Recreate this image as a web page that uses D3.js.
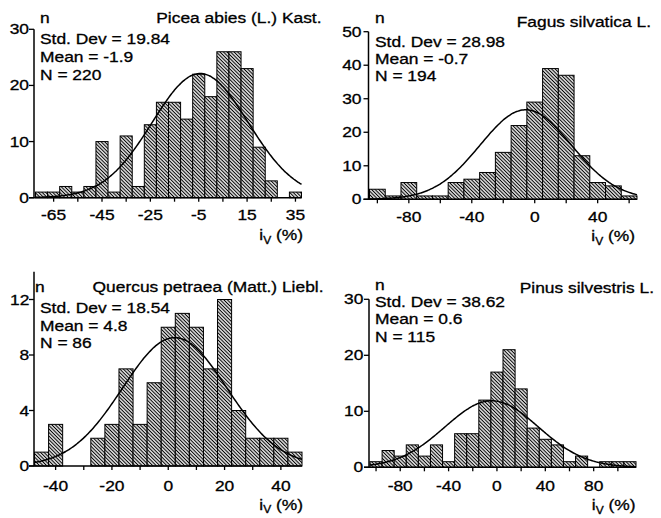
<!DOCTYPE html>
<html><head><meta charset="utf-8">
<script src="https://cdn.jsdelivr.net/npm/d3@7"></script>
<style>
body{margin:0;background:#fff;}
svg{display:block;}
text{font-family:"Liberation Sans",Arial,Helvetica,sans-serif;fill:#000;stroke:#000;stroke-width:0.3px;}
</style></head>
<body>
<svg id="chart" width="661" height="518"></svg>
<script>
// ---------- data ----------
const species = ["Picea abies (L.) Kast.", "Fagus silvatica L.", "Quercus petraea (Matt.) Liebl.", "Pinus silvestris L."];
const stdDevs = [19.84, 28.98, 18.54, 38.62];
const means = [-1.9, -0.7, 4.8, 0.6];
const counts = [220, 194, 86, 115];
const binStarts = [-72.5, -105, -47.5, -105];
const binWidths = [5, 10, 5, 10];

const piceaBins  = [1,1,2,1,2,10,1,11,2,13,17,17,14,22,18,26,26,23,9,3,0,1];
const fagusBins  = [3,1,5,1,1,5,6,8,14,22,29,39,37,13,5,4,1];
const quercusBins= [1,3,0,0,2,3,7,3,6,10,11,10,7,12,4,2,2,2,1];
const pinusBins  = [1,3,2,4,2,4,1,6,6,12,17,21,14,7,5,4,1,2,0,1,1,1];

const piceaXLabels = [-65,-45,-25,-5,15,35];
const fagusXLabels = [-80,-40,0,40];
const quercusXLabels = [-40,-20,0,20,40];
const pinusXLabels = [-80,-40,0,40,80];

const piceaXTicks = [-65,-55,-45,-35,-25,-15,-5,5,15,25,35];
const fagusXTicks = [-100,-80,-60,-40,-20,0,20,40,60];
const quercusXTicks = [-40,-30,-20,-10,0,10,20,30,40];
const pinusXTicks = [-100,-80,-60,-40,-20,0,20,40,60,80,100];

const piceaYTicks = [0,10,20,30];
const fagusYTicks = [0,10,20,30,40,50];
const quercusYTicks = [0,4,8,12];
const pinusYTicks = [0,10,20,30];

const yMax = [30, 50, 14, 30];

const binsAll = [piceaBins, fagusBins, quercusBins, pinusBins];
const xLabelsAll = [piceaXLabels, fagusXLabels, quercusXLabels, pinusXLabels];
const xTicksAll = [piceaXTicks, fagusXTicks, quercusXTicks, pinusXTicks];
const yTicksAll = [piceaYTicks, fagusYTicks, quercusYTicks, pinusYTicks];

// ---------- layout (pixel positions) ----------
const layout = [
  {x0:35.5, x1:301.5, y0:197.7, y1:29.3, spine:34,  nX:40,  nY:23,  tX:321.5, tY:23,  sX:40,  sY:[44,62,79.5],   ylX:29,  xlY:220,  atX:303,  atY:240},
  {x0:369.5,x1:637,   y0:199.3, y1:31.7, spine:368.5,nX:375, nY:23.3,tX:651,   tY:27,  sX:375, sY:[46.7,64,80.7], ylX:361.5,xlY:221.5,atX:635,  atY:241},
  {x0:34.5, x1:302,   y0:466,   y1:299.5,spine:34,  nX:35,  nY:291.7,tX:323.5,tY:291.7,sX:40, sY:[313.3,331,348.3],ylX:29.3,xlY:490.7,atX:303, atY:509.5},
  {x0:370,  x1:636,   y0:467.3, y1:299.3,spine:369, nX:375, nY:289.5,tX:654,  tY:293.3,sX:375, sY:[306.5,323.8,341.7],ylX:363.3,xlY:491, atX:635.5,atY:510}
];

const SX = 1.2;     // horizontal stretch of the printed typeface
const FS = 14.5;

const svg = d3.select("#chart");
const defs = svg.append("defs");
const pat = defs.append("pattern")
  .attr("id","hatch").attr("patternUnits","userSpaceOnUse")
  .attr("width",2.5).attr("height",10)
  .attr("patternTransform","rotate(-45)");
pat.append("rect").attr("width",2.5).attr("height",10).attr("fill","#fff");
pat.append("line").attr("x1",1.25).attr("x2",1.25).attr("y1",0).attr("y2",10)
  .attr("stroke","#000").attr("stroke-width",1.15);

function txt(g, x, y, str, anchor, size){
  return g.append("text")
    .attr("transform",`translate(${x},${y}) scale(${SX},1)`)
    .attr("text-anchor",anchor||"start")
    .style("font-size",(size||FS)+"px")
    .text(str);
}

function normal(x, m, s){ return Math.exp(-0.5*((x-m)/s)**2)/(s*Math.sqrt(2*Math.PI)); }

species.forEach((name, p) => {
  const L = layout[p];
  const bw = binWidths[p];
  const bins = binsAll[p];
  const xMin = binStarts[p], xMax = binStarts[p] + bw*bins.length;
  const x = d3.scaleLinear().domain([xMin, xMax]).range([L.x0, L.x1]);
  const yTop = d3.max(yTicksAll[p]);
  const ys = d3.scaleLinear().domain([0, yTop]).range([L.y0, L.y1]);
  const g = svg.append("g");

  // bars
  g.selectAll("rect.bar").data(bins.map((c,i)=>({c, a:xMin+i*bw, b:xMin+(i+1)*bw})).filter(d=>d.c>0))
    .enter().append("rect").attr("class","bar")
    .attr("x", d=>x(d.a)).attr("width", d=>x(d.b)-x(d.a))
    .attr("y", d=>ys(d.c)).attr("height", d=>ys(0)-ys(d.c))
    .attr("fill","url(#hatch)").attr("stroke","#000").attr("stroke-width",1);

  // fitted normal curve (drawn half a class to the left, as in the original)
  const pts = d3.range(0, 201).map(k => {
    const xv = xMin + (xMax - xMin) * k / 200;
    return [xv, counts[p] * bw * normal(xv + bw/2, means[p], stdDevs[p])];
  });
  g.append("path").datum(pts)
    .attr("d", d3.line().x(d=>x(d[0])).y(d=>ys(d[1])).curve(d3.curveBasis))
    .attr("fill","none").attr("stroke","#000").attr("stroke-width",1.5);

  // axes lines
  g.append("line").attr("x1",L.spine).attr("x2",L.spine)
    .attr("y1",ys(0)).attr("y2",ys(yMax[p])).attr("stroke","#000").attr("stroke-width",1.5);
  g.append("line").attr("x1",L.spine-5).attr("x2",x(xMax))
    .attr("y1",ys(0)).attr("y2",ys(0)).attr("stroke","#000").attr("stroke-width",1.5);

  // y ticks
  yTicksAll[p].forEach(t => {
    g.append("line").attr("x1",L.spine-5).attr("x2",L.spine).attr("y1",ys(t)).attr("y2",ys(t))
      .attr("stroke","#000").attr("stroke-width",1.3);
    txt(g, L.ylX, ys(t)+5, String(t), "end");
  });
  // x ticks
  xTicksAll[p].forEach(t => {
    g.append("line").attr("x1",x(t)).attr("x2",x(t)).attr("y1",ys(0)).attr("y2",ys(0)+4)
      .attr("stroke","#000").attr("stroke-width",1.3);
  });
  xLabelsAll[p].forEach(t => {
    txt(g, x(t), L.xlY, String(t), "middle");
  });

  // texts
  txt(g, L.nX, L.nY, "n", "start");
  txt(g, L.tX, L.tY, name, "end");
  txt(g, L.sX, L.sY[0], "Std. Dev = " + stdDevs[p].toFixed(2), "start");
  txt(g, L.sX, L.sY[1], "Mean = " + means[p], "start");
  txt(g, L.sX, L.sY[2], "N = " + counts[p], "start");

  // axis title i_V (%)
  const at = g.append("text")
    .attr("transform",`translate(${L.atX},${L.atY}) scale(${SX},1)`)
    .attr("text-anchor","end").style("font-size",FS+"px");
  at.append("tspan").text("i");
  at.append("tspan").attr("dy",3.5).style("font-size","10px").text("V");
  at.append("tspan").attr("dy",-3.5).text(" (%)");
});
</script>
</body></html>
